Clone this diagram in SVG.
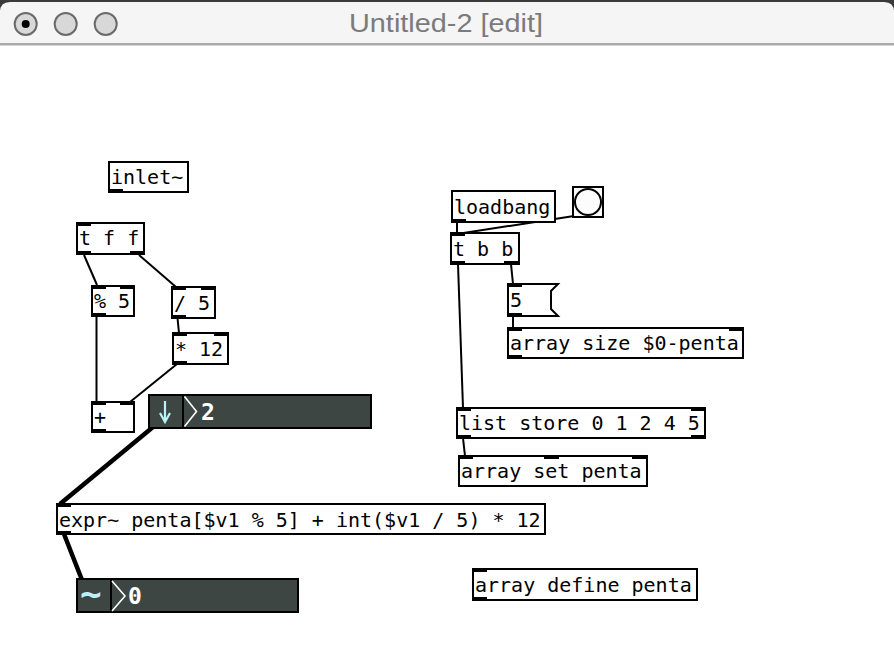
<svg xmlns="http://www.w3.org/2000/svg" width="894" height="646" viewBox="0 0 894 646">
<defs>
<style>
.box{fill:#ffffff;stroke:#000000;stroke-width:2}
.t{font-family:"DejaVu Sans Mono","Liberation Mono",monospace;font-size:20px;fill:#000000}
.tw{font-family:"DejaVu Sans Mono","Liberation Mono",monospace;font-size:23px;font-weight:bold;fill:#ffffff}
.io{fill:#000000}
.c{stroke:#000000;stroke-width:2;fill:none}
.s{stroke:#000000;stroke-width:4.5;fill:none}
.nb{fill:#3e4644;stroke:#000000;stroke-width:2}
.tl{fill:#d8d8d8;stroke:#6a6a6a;stroke-width:2}
</style>
</defs>
<rect x="0" y="0" width="894" height="646" fill="#ffffff"/>
<g id="titlebar">
<rect x="0" y="0" width="894" height="10" fill="#3a3a3a"/>
<path d="M0,12 Q0,2 10,2 H884 Q894,2 894,12 V44 H0 Z" fill="#f5f5f5"/>
<rect x="0" y="43" width="894" height="2.5" fill="#aaaaaa"/>
<circle class="tl" cx="25.7" cy="24" r="11"/>
<circle cx="25.7" cy="24" r="4" fill="#000000"/>
<circle class="tl" cx="65.7" cy="24" r="11"/>
<circle class="tl" cx="105.7" cy="24" r="11"/>
<text x="349" y="32" textLength="194" lengthAdjust="spacingAndGlyphs" font-family="'Helvetica Neue','Liberation Sans',Arial,sans-serif" font-size="26" fill="#7b7b7b">Untitled-2 [edit]</text>
</g>
<g id="connections">
<line class="c" x1="84" y1="255" x2="97" y2="285"/>
<line class="c" x1="139" y1="255" x2="176" y2="287"/>
<line class="c" x1="177.5" y1="318" x2="179" y2="333"/>
<line class="c" x1="96.5" y1="316" x2="96.5" y2="402"/>
<line class="c" x1="177" y1="364" x2="130" y2="402"/>
<line class="s" x1="153" y1="427" x2="60" y2="504"/>
<line class="s" x1="64" y1="534" x2="82" y2="580"/>
<line class="c" x1="457" y1="222" x2="457" y2="233"/>
<line class="c" x1="574" y1="216" x2="457" y2="234"/>
<line class="c" x1="458" y1="264" x2="463" y2="408"/>
<line class="c" x1="511" y1="264" x2="513" y2="284"/>
<line class="c" x1="513" y1="316" x2="513" y2="328"/>
<line class="c" x1="463" y1="438" x2="465" y2="456"/>
</g>
<g id="node-inlet">
<rect class="box" x="109" y="162" width="79" height="30"/>
<text class="t" x="111" y="184">inlet~</text>
<rect class="io" x="108" y="189" width="15" height="4"/>
</g>
<g id="node-tff">
<rect class="box" x="77" y="223" width="67" height="31"/>
<text class="t" x="79" y="245">t f f</text>
<rect class="io" x="76" y="222" width="15" height="4"/>
<rect class="io" x="76" y="251" width="15" height="4"/>
<rect class="io" x="130" y="251" width="15" height="4"/>
</g>
<g id="node-mod5">
<rect class="box" x="92" y="286" width="42" height="30"/>
<text class="t" x="94" y="308">% 5</text>
<rect class="io" x="91" y="285" width="15" height="4"/>
<rect class="io" x="120" y="285" width="15" height="4"/>
<rect class="io" x="91" y="313" width="15" height="4"/>
</g>
<g id="node-div5">
<rect class="box" x="172" y="287" width="43" height="31"/>
<text class="t" x="174" y="310">/ 5</text>
<rect class="io" x="171" y="286" width="15" height="4"/>
<rect class="io" x="201" y="286" width="15" height="4"/>
<rect class="io" x="171" y="315" width="15" height="4"/>
</g>
<g id="node-mul12">
<rect class="box" x="173" y="333" width="55" height="31"/>
<text class="t" x="175" y="356">* 12</text>
<rect class="io" x="172" y="332" width="15" height="4"/>
<rect class="io" x="214" y="332" width="15" height="4"/>
<rect class="io" x="172" y="361" width="15" height="4"/>
</g>
<g id="node-plus">
<rect class="box" x="92" y="402" width="42" height="30"/>
<text class="t" x="94" y="424">+</text>
<rect class="io" x="91" y="401" width="15" height="4"/>
<rect class="io" x="120" y="401" width="15" height="4"/>
<rect class="io" x="91" y="429" width="15" height="4"/>
</g>
<g id="node-numin">
<rect class="nb" x="149" y="395" width="222" height="33"/>
<line x1="183" y1="395" x2="183" y2="428" stroke="#000000" stroke-width="2"/>
<path d="M165,401 V422 M160,413 L165,422 L170,413" stroke="#b8f2f6" stroke-width="2.2" fill="none"/>
<path d="M184.5,396.5 L196.5,411.5 L184.5,426.5" stroke="#ffffff" stroke-width="1.6" fill="none"/>
<text class="tw" x="201" y="420">2</text>
</g>
<g id="node-expr">
<rect class="box" x="57" y="504" width="488" height="30"/>
<text class="t" x="59" y="527">expr~ penta[$v1 % 5] + int($v1 / 5) * 12</text>
<rect class="io" x="56" y="503" width="15" height="4"/>
<rect class="io" x="56" y="531" width="15" height="4"/>
</g>
<g id="node-numout">
<rect class="nb" x="77" y="579" width="221" height="33"/>
<line x1="111" y1="579" x2="111" y2="612" stroke="#000000" stroke-width="2"/>
<text x="80" y="606" font-family="'DejaVu Sans Mono',monospace" font-size="36" font-weight="bold" fill="#b8f2f6">~</text>
<path d="M112,581 L125,596 L112,611" stroke="#ffffff" stroke-width="1.6" fill="none"/>
<text class="tw" x="128" y="604">0</text>
</g>
<g id="node-loadbang">
<rect class="box" x="452" y="191" width="103" height="31"/>
<text class="t" x="454" y="214">loadbang</text>
<rect class="io" x="451" y="219" width="15" height="4"/>
</g>
<g id="node-bang">
<rect x="573" y="187" width="30" height="30" fill="#fcfcfc" stroke="#000000" stroke-width="2"/>
<circle cx="588" cy="202" r="13" fill="#fcfcfc" stroke="#000000" stroke-width="2"/>
</g>
<g id="node-tbb">
<rect class="box" x="451" y="233" width="68" height="31"/>
<text class="t" x="453" y="256">t b b</text>
<rect class="io" x="450" y="232" width="15" height="4"/>
<rect class="io" x="450" y="261" width="15" height="4"/>
<rect class="io" x="504" y="261" width="15" height="4"/>
</g>
<g id="node-msg5">
<path d="M508,284 H558 L551,291 V309 L558,316 H508 Z" fill="#ffffff" stroke="#000000" stroke-width="2"/>
<text class="t" x="510" y="307">5</text>
<rect class="io" x="507" y="283" width="15" height="4"/>
<rect class="io" x="507" y="313" width="15" height="4"/>
</g>
<g id="node-arraysize">
<rect class="box" x="508" y="328" width="235" height="30"/>
<text class="t" x="510" y="350">array size $0-penta</text>
<rect class="io" x="507" y="327" width="15" height="4"/>
<rect class="io" x="729" y="327" width="15" height="4"/>
<rect class="io" x="507" y="355" width="15" height="4"/>
</g>
<g id="node-liststore">
<rect class="box" x="457" y="408" width="248" height="30"/>
<text class="t" x="459" y="430">list store 0 1 2 4 5</text>
<rect class="io" x="456" y="407" width="15" height="4"/>
<rect class="io" x="691" y="407" width="15" height="4"/>
<rect class="io" x="456" y="435" width="15" height="4"/>
<rect class="io" x="691" y="435" width="15" height="4"/>
</g>
<g id="node-arrayset">
<rect class="box" x="459" y="456" width="188" height="30"/>
<text class="t" x="461" y="478">array set penta</text>
<rect class="io" x="458" y="455" width="15" height="4"/>
<rect class="io" x="544" y="455" width="15" height="4"/>
<rect class="io" x="632" y="455" width="15" height="4"/>
</g>
<g id="node-arraydefine">
<rect class="box" x="473" y="569" width="224" height="31"/>
<text class="t" x="475" y="592">array define penta</text>
<rect class="io" x="472" y="568" width="15" height="4"/>
<rect class="io" x="472" y="597" width="15" height="4"/>
</g>
</svg>
